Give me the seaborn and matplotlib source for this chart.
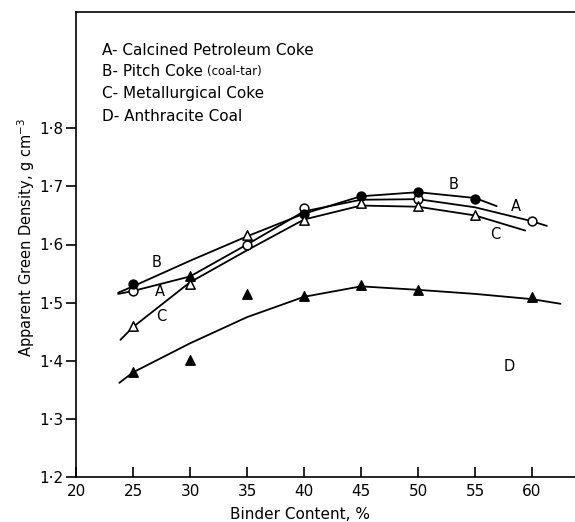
import matplotlib
matplotlib.use("Agg")
import matplotlib.pyplot as plt
import seaborn as sns
import pandas as pd

# binder content (%) where the hand-drawn curves were read
a_curve_x = [23.7, 25, 30, 35, 40, 45, 50, 55, 60, 61.3]
a_curve_y = [1.515, 1.520, 1.545, 1.600, 1.657, 1.677, 1.678, 1.664, 1.640, 1.632]
b_curve_x = [23.7, 25, 30, 35, 40, 45, 50, 55, 56.9]
b_curve_y = [1.517, 1.528, 1.572, 1.614, 1.653, 1.683, 1.690, 1.680, 1.666]
c_curve_x = [23.9, 25, 30, 35, 40, 45, 50, 55, 59.4]
c_curve_y = [1.436, 1.458, 1.535, 1.590, 1.643, 1.667, 1.665, 1.650, 1.624]
d_curve_x = [23.8, 25, 30, 35, 40, 45, 50, 55, 60, 62.5]
d_curve_y = [1.362, 1.380, 1.430, 1.475, 1.510, 1.528, 1.522, 1.515, 1.506, 1.498]

# measured points
a_pts_x = [25, 35, 40, 50, 60]
a_pts_y = [1.520, 1.600, 1.662, 1.678, 1.640]
b_pts_x = [25, 40, 45, 50, 55]
b_pts_y = [1.532, 1.653, 1.683, 1.690, 1.679]
c_pts_x = [25, 30, 35, 40, 45, 50, 55]
c_pts_y = [1.460, 1.532, 1.617, 1.643, 1.671, 1.666, 1.650]
d_pts_x = [25, 30, 30, 35, 40, 45, 50, 60]
d_pts_y = [1.381, 1.402, 1.545, 1.514, 1.512, 1.531, 1.521, 1.510]

x_ticks = [20, 25, 30, 35, 40, 45, 50, 55, 60]
y_ticks = [1.2, 1.3, 1.4, 1.5, 1.6, 1.7, 1.8]
y_tick_labels = ["1·2", "1·3", "1·4", "1·5", "1·6", "1·7", "1·8"]

legend_lines = ["A- Calcined Petroleum Coke", "B- Pitch Coke", "C- Metallurgical Coke",
                "D- Anthracite Coal"]

sns.set_style("ticks")
plt.rcParams['font.family'] = ['DejaVu Sans']
for key in ["text.color", "axes.labelcolor", "xtick.color", "ytick.color", "axes.edgecolor"]:
    plt.rcParams[key] = "black"

fig = plt.figure(figsize=(5.75, 5.22), dpi=100)
ax = fig.add_axes([76 / 575, 45 / 522, 499 / 575, 465 / 522])

curves = [(a_curve_x, a_curve_y), (b_curve_x, b_curve_y), (c_curve_x, c_curve_y), (d_curve_x, d_curve_y)]
for cx, cy in curves:
    df = pd.DataFrame({"x": cx, "y": cy})
    sns.lineplot(data=df, x="x", y="y", ax=ax, color="black", linewidth=1.3,
                 estimator=None, sort=False)

# open / filled circles and triangles
sns.scatterplot(x=a_pts_x, y=a_pts_y, ax=ax, marker="o", s=40, color="white",
                edgecolor="black", linewidth=1.1, zorder=3)
sns.scatterplot(x=b_pts_x, y=b_pts_y, ax=ax, marker="o", s=40, color="black",
                edgecolor="black", linewidth=1.1, zorder=3)
sns.scatterplot(x=c_pts_x, y=c_pts_y, ax=ax, marker="^", s=45, color="white",
                edgecolor="black", linewidth=1.1, zorder=3)
sns.scatterplot(x=d_pts_x, y=d_pts_y, ax=ax, marker="^", s=45, color="black",
                edgecolor="black", linewidth=1.1, zorder=3)

ax.set_xlim(20, 63.77)
ax.set_ylim(1.2, 2.0)
ax.set_xticks(x_ticks)
ax.set_xticklabels([str(v) for v in x_ticks])
ax.set_yticks(y_ticks)
ax.set_yticklabels(y_tick_labels)
ax.tick_params(axis="x", direction="in", length=7, width=1.2, labelsize=11, pad=5)
ax.tick_params(axis="y", direction="out", length=7, width=1.2, labelsize=11, pad=2)
for side in ["left", "bottom", "top"]:
    ax.spines[side].set_linewidth(1.2)
ax.spines["right"].set_visible(False)

ax.set_xlabel("Binder Content, %", fontsize=11)
ax.xaxis.set_label_coords(0.449, -0.065)
ax.set_ylabel("Apparent Green Density, g cm$^{-3}$", fontsize=10.5)
ax.yaxis.set_label_coords(-0.078, 0.516)

# key in the upper left
key_y = [1.934, 1.897, 1.859, 1.821]
for txt, ty in zip(legend_lines, key_y):
    ax.text(22.3, ty, txt, fontsize=11, va="center", ha="left")
t_b = ax.texts[1]
ax.annotate("(coal-tar)", xy=(1, 0.5), xycoords=t_b, xytext=(3, 0),
            textcoords="offset points", fontsize=8.5, va="center", ha="left")

# curve letters
ax.text(27.1, 1.569, "B", fontsize=10.5, ha="center", va="center")
ax.text(27.4, 1.519, "A", fontsize=10.5, ha="center", va="center")
ax.text(27.5, 1.476, "C", fontsize=10.5, ha="center", va="center")
ax.text(53.1, 1.703, "B", fontsize=10.5, ha="center", va="center")
ax.text(58.6, 1.666, "A", fontsize=10.5, ha="center", va="center")
ax.text(56.75, 1.617, "C", fontsize=10.5, ha="center", va="center")
ax.text(58.0, 1.390, "D", fontsize=10.5, ha="center", va="center")

fig.savefig("out.png", dpi=100)
